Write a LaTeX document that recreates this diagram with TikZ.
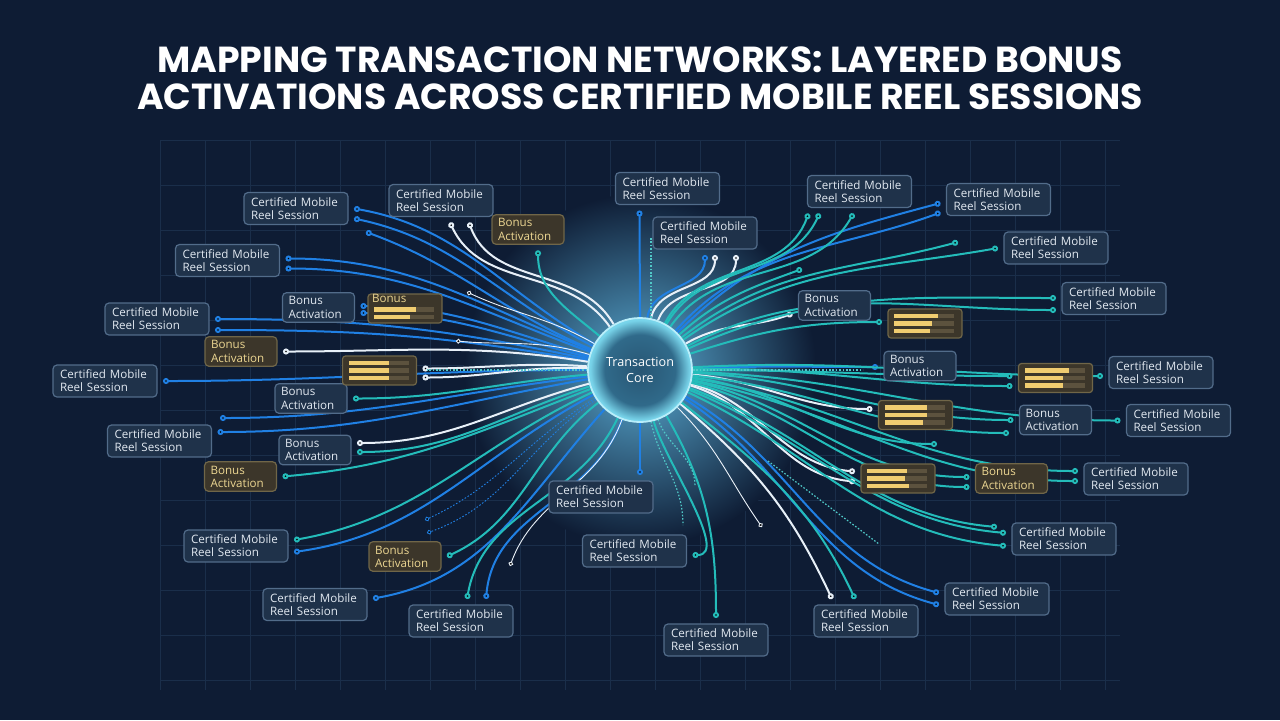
\documentclass[tikz,border=0pt]{standalone}
\usepackage{fontspec}
\setsansfont{Open Sans}
\newfontfamily\titlefont{Poppins}
\usepackage{tikz}
\usetikzlibrary{arrows.meta}

\definecolor{bgnavy}{RGB}{14,28,52}
\definecolor{gridcol}{RGB}{26,46,74}
\definecolor{sessfill}{RGB}{31,50,74}
\definecolor{sessline}{RGB}{82,108,138}
\definecolor{sesstext}{RGB}{226,233,241}
\definecolor{bonusfill}{RGB}{60,54,42}
\definecolor{bonusline}{RGB}{112,102,72}
\definecolor{bonustext}{RGB}{236,214,146}
\definecolor{baryellow}{RGB}{240,204,112}
\definecolor{bardark}{RGB}{92,82,62}
\definecolor{linkblue}{RGB}{32,128,228}
\definecolor{linkteal}{RGB}{36,188,186}
\definecolor{linkwhite}{RGB}{232,240,248}
\definecolor{glowcol}{RGB}{90,172,212}
\definecolor{corein}{RGB}{40,86,116}
\definecolor{coremid}{RGB}{48,106,138}
\definecolor{coreedge}{RGB}{120,212,234}
\definecolor{coreline}{RGB}{185,238,250}

\pgfdeclareradialshading{sphere}{\pgfpoint{0bp}{0bp}}{color(0bp)=(corein);
  color(17bp)=(coremid); color(24bp)=(coreedge); color(50bp)=(coreedge)}

\pgfdeclarelayer{bg}
\pgfdeclarelayer{links}
\pgfsetlayers{bg,links,main}

\begin{document}
\begin{tikzpicture}[x=0.5pt,y=-0.5pt,
    session/.style={rectangle,rounded corners=2pt,draw=sessline,fill=sessfill,line width=0.6pt,
      text=sesstext,font=\sffamily\fontsize{5.8}{6.6}\selectfont,align=left,
      text width=45pt,inner xsep=3.5pt,inner ysep=2pt,minimum height=16pt,outer sep=3pt},
    bonusb/.style={session,text width=30pt,inner xsep=3pt,minimum height=14pt},
    bonusy/.style={bonusb,draw=bonusline,fill=bonusfill,text=bonustext},
    gauge/.style={rectangle,rounded corners=1.5pt,draw=bonusline,fill=bonusfill,line width=0.6pt,
      minimum width=37pt,minimum height=14.5pt,inner sep=0pt,outer sep=3pt,
      text=bonustext,font=\sffamily\fontsize{5.8}{6.6}\selectfont,
      path picture={\foreach \yy/\ll in {#1}{
        \fill[bardark,sharp corners] ([xshift=3pt,yshift=\yy pt]path picture bounding box.west) rectangle ++(30pt,2.2pt);
        \fill[baryellow,sharp corners] ([xshift=3pt,yshift=\yy pt]path picture bounding box.west) rectangle ++(\ll pt,2.2pt);}}},
    core/.style={circle,minimum size=52pt,inner sep=0pt,shading=sphere,draw=coreline,line width=0.9pt,
      text=white,font=\sffamily\fontsize{6.3}{7.6}\selectfont,align=center},
    link/.style={line width=1pt,-{Circle[length=3pt]}},
    blueline/.style={link,draw=linkblue},
    tealline/.style={link,draw=linkteal},
    whiteline/.style={link,draw=linkwhite},
    faintline/.style={line width=0.45pt,-{Circle[length=2.4pt]}},
    dataline/.style={draw=linkteal!80,line width=0.6pt,dash pattern=on 0.8pt off 0.9pt},
    gridline/.style={draw=gridcol,line width=0.4pt},
    title/.style={text=white,font=\titlefont\bfseries\fontsize{18.1}{18.5}\selectfont,align=center}]

  \useasboundingbox (0,0) rectangle (1280,720);

  % backdrop
  \begin{pgfonlayer}{bg}
    \fill[bgnavy] (0,0) rectangle (1280,720);
    \foreach \gx in {160,205,...,1120} \draw[gridline] (\gx,140) -- (\gx,690);
    \foreach \gy in {140,185,...,690} \draw[gridline] (160,\gy) -- (1120,\gy);
    \shade[inner color=glowcol,outer color=bgnavy] (640,370) circle (88pt);
  \end{pgfonlayer}

  \node[title] (title) at (640,78) {MAPPING TRANSACTION NETWORKS: LAYERED BONUS\\ACTIVATIONS ACROSS CERTIFIED MOBILE REEL SESSIONS};

  \node[core] (core) at (640,370) {Transaction\\Core};

  % sessions
  \node[session] (s1) at (296,208.5) {Certified Mobile\\Reel Session};
  \node[session] (s2) at (441,200.5) {Certified Mobile\\Reel Session};
  \node[session] (s3) at (667.5,188.5) {Certified Mobile\\Reel Session};
  \node[session] (s4) at (705,233) {Certified Mobile\\Reel Session};
  \node[session] (s5) at (859.5,191.5) {Certified Mobile\\Reel Session};
  \node[session] (s6) at (998.5,199.5) {Certified Mobile\\Reel Session};
  \node[session] (s7) at (1056,248) {Certified Mobile\\Reel Session};
  \node[session] (s8) at (1114,298.5) {Certified Mobile\\Reel Session};
  \node[session] (s9) at (227.5,260.5) {Certified Mobile\\Reel Session};
  \node[session] (s10) at (157,319) {Certified Mobile\\Reel Session};
  \node[session] (s11) at (105,381) {Certified Mobile\\Reel Session};
  \node[session] (s12) at (159.5,441) {Certified Mobile\\Reel Session};
  \node[session] (s13) at (1161,372.5) {Certified Mobile\\Reel Session};
  \node[session] (s14) at (1178.5,420.5) {Certified Mobile\\Reel Session};
  \node[session] (s15) at (1136,479) {Certified Mobile\\Reel Session};
  \node[session] (s16) at (1064,539) {Certified Mobile\\Reel Session};
  \node[session] (s17) at (997,599) {Certified Mobile\\Reel Session};
  \node[session] (s18) at (866,621) {Certified Mobile\\Reel Session};
  \node[session] (s19) at (716,640) {Certified Mobile\\Reel Session};
  \node[session] (s20) at (461,621) {Certified Mobile\\Reel Session};
  \node[session] (s21) at (315,604.5) {Certified Mobile\\Reel Session};
  \node[session] (s22) at (236,546) {Certified Mobile\\Reel Session};
  \node[session] (s23) at (601,497) {Certified Mobile\\Reel Session};
  \node[session] (s24) at (634.5,551) {Certified Mobile\\Reel Session};

  % bonus activations
  \node[bonusb] (b1) at (318.5,307.5) {Bonus\\Activation};
  \node[bonusy] (b2) at (528,229.5) {Bonus\\Activation};
  \node[bonusy] (b3) at (241,351.5) {Bonus\\Activation};
  \node[bonusb] (b4) at (311,398.5) {Bonus\\Activation};
  \node[bonusb] (b5) at (315,450) {Bonus\\Activation};
  \node[bonusy] (b6) at (240.5,476.5) {Bonus\\Activation};
  \node[bonusy] (b7) at (405,556.5) {Bonus\\Activation};
  \node[bonusb] (b8) at (834.5,305.5) {Bonus\\Activation};
  \node[bonusb] (b9) at (920,366) {Bonus\\Activation};
  \node[bonusb] (b10) at (1055.5,420) {Bonus\\Activation};
  \node[bonusy] (b11) at (1011.5,478.5) {Bonus\\Activation};

  % gauges
  \node[gauge={-1.6/21,-5.4/18},text width=33pt,align=left] (g1) at (405,308.5) {\raisebox{3.2pt}[0pt][0pt]{Bonus}};
  \node[gauge={2.7/20,-1.1/20,-4.9/20}] (g2) at (379.5,370.5) {};
  \node[gauge={2.7/22,-1.1/19,-4.9/18}] (g3) at (925,323.5) {};
  \node[gauge={2.7/22,-1.1/19,-4.9/19}] (g4) at (1055.5,378) {};
  \node[gauge={2.7/21,-1.1/21,-4.9/19}] (g5) at (915.5,415) {};
  \node[gauge={2.7/20,-1.1/19,-4.9/21}] (g6) at (898,478.5) {};

  % loose ends
  \coordinate (f1) at (366,232);
  \coordinate (f2) at (220,418);
  \coordinate (f3) at (425,520);
  \coordinate (f4) at (427,533);
  \coordinate (f5) at (510,566);
  \coordinate (f6) at (683,525);
  \coordinate (f7) at (695,486);
  \coordinate (f8) at (762,527);
  \coordinate (f9) at (768,461);
  \coordinate (f10) at (879,544);
  \coordinate (f11) at (997,527);
  \coordinate (f12) at (937,444);
  \coordinate (f13) at (1009,433);
  \coordinate (f14) at (802,269);
  \coordinate (f15) at (958,242);
  \coordinate (f16) at (456,341);
  \coordinate (f17) at (467,292);
  \coordinate (f18) at (651,238);
  \coordinate (f19) at (651,318);

  \begin{pgfonlayer}{links}
    \path[blueline]
      (core) edge[out=150,in=-10] (s1.east)
      (core) edge[out=153,in=-12] ([yshift=-5pt]s1.east)
      (core) edge[out=157,in=-20] (f1)
      (core) edge[out=158,in=0] ([yshift=1pt]s9.east)
      (core) edge[out=160,in=0] ([yshift=-4pt]s9.east)
      (core) edge[out=164,in=0] ([yshift=0.75pt]b1.east)
      (core) edge[out=166,in=0] ([yshift=-2.75pt]b1.east)
      (core) edge[out=168,in=0] (s10.east)
      (core) edge[out=170,in=0] ([yshift=-5.5pt]s10.east)
      (core) edge[out=180,in=0] (s11.east)
      (core) edge[out=187,in=0] (f2)
      (core) edge[out=190,in=0] ([yshift=4.5pt]s12.east)
      (core) edge[out=208,in=8] ([yshift=-3pt]s22.east)
      (core) edge[out=228,in=10] ([yshift=3pt]s21.east)
      (core) edge[out=250,in=85] ([xshift=12.5pt]s20.north)
      (core) edge[out=-90,in=90] ([xshift=19.5pt]s23.north)
      (core) edge[out=-30,in=165] ([yshift=3pt]s17.west)
      (core) edge[out=-33,in=165] ([yshift=-3pt]s17.west)
      (core) edge[out=2,in=180] ([yshift=-0.5pt]b9.west)
      (core) edge[out=45,in=195] ([yshift=-1.75pt]s6.west)
      (core) edge[out=48,in=200] ([yshift=-6.5pt]s6.west)
      (core) edge[out=82,in=-90] (s4.south)
      (core) edge[out=90,in=-90] ([xshift=-14pt]s3.south);
    \path[whiteline]
      (core) edge[out=125,in=-65] ([xshift=4.5pt]s2.south)
      (core) edge[out=120,in=-70] ([xshift=14pt]s2.south)
      (core) edge[out=171,in=0] (b3.east)
      (core) edge[out=176,in=0] ([yshift=1pt]g2.east)
      (core) edge[out=178,in=0] ([yshift=-3.5pt]g2.east)
      (core) edge[out=195,in=0] ([yshift=3.5pt]b5.east)
      (core) edge[out=-40,in=115] ([xshift=-17pt]s18.north)
      (core) edge[out=-15,in=175] ([yshift=3.5pt]g6.west)
      (core) edge[out=-17,in=175] ([yshift=-1.5pt]g6.west)
      (core) edge[out=-5,in=180] ([yshift=3pt]g5.west)
      (core) edge[out=30,in=200] ([yshift=-4pt]b8.west)
      (core) edge[out=78,in=-90] ([xshift=5pt]s4.south)
      (core) edge[out=70,in=-90] ([xshift=15.5pt]s4.south);
    \path[tealline]
      (core) edge[out=140,in=-90] ([xshift=5pt]b2.south)
      (core) edge[out=185,in=0] (b4.east)
      (core) edge[out=198,in=0] ([yshift=-1pt]b5.east)
      (core) edge[out=201,in=5] (b6.east)
      (core) edge[out=205,in=10] ([yshift=3pt]s22.east)
      (core) edge[out=218,in=25] (b7.east)
      (core) edge[out=245,in=80] ([xshift=3pt]s20.north)
      (core) edge[out=-75,in=0,looseness=0.7] ([yshift=-2pt]s24.east)
      (core) edge[out=-60,in=90] (s19.north)
      (core) edge[out=-38,in=115] ([xshift=-5.5pt]s18.north)
      (core) edge[out=-22,in=175] ([yshift=3pt]s16.west)
      (core) edge[out=-25,in=175] ([yshift=-3.5pt]s16.west)
      (core) edge[out=-20,in=175] (f11)
      (core) edge[out=-12,in=180] ([yshift=0.75pt]b11.west)
      (core) edge[out=-14,in=180] ([yshift=-4.25pt]b11.west)
      (core) edge[out=-9,in=180] ([yshift=4pt]s15.west)
      (core) edge[out=-11,in=180] ([yshift=-1pt]s15.west)
      (core) edge[out=-8,in=180] (f12)
      (core) edge[out=-6,in=180] (f13)
      (core) edge[out=-3,in=180] (b10.west)
      (core) edge[out=-2,in=180] (s14.west)
      (core) edge[out=0,in=180] ([yshift=1pt]g4.west)
      (core) edge[out=1,in=180] ([yshift=-4pt]g4.west)
      (core) edge[out=3,in=180] ([yshift=-1.75pt]s13.west)
      (core) edge[out=18,in=180] ([yshift=0.75pt]g3.west)
      (core) edge[out=24,in=180] ([yshift=0.25pt]s8.west)
      (core) edge[out=27,in=180] ([yshift=-5.75pt]s8.west)
      (core) edge[out=42,in=200] (f14)
      (core) edge[out=35,in=190] (s7.west)
      (core) edge[out=38,in=195] (f15)
      (core) edge[out=62,in=-110] ([xshift=-25.5pt]s5.south)
      (core) edge[out=60,in=-115] ([xshift=-20pt]s5.south)
      (core) edge[out=55,in=-120] ([xshift=-3pt]s5.south);
    \path[faintline,draw=linkwhite!85]
      (core) edge[out=250,in=70] (f5)
      (core) edge[out=-45,in=125] (f8)
      (core) edge[out=163,in=-5] (f16)
      (core) edge[out=150,in=-25] (f17);
    \path[faintline,draw=linkblue,dash pattern=on 0.8pt off 0.9pt]
      (core) edge[out=212,in=25] (f3)
      (core) edge[out=214,in=20] (f4);
    \path[dataline]
      (core) edge[out=-78,in=90] (f6)
      (core) edge[out=-70,in=90] (f7)
      (f9) edge (f10)
      (f18) edge (f19)
      (core.west) edge ([xshift=-80pt]core.west)
      (core.east) edge ([xshift=85pt]core.east);
  \end{pgfonlayer}
\end{tikzpicture}
\end{document}
